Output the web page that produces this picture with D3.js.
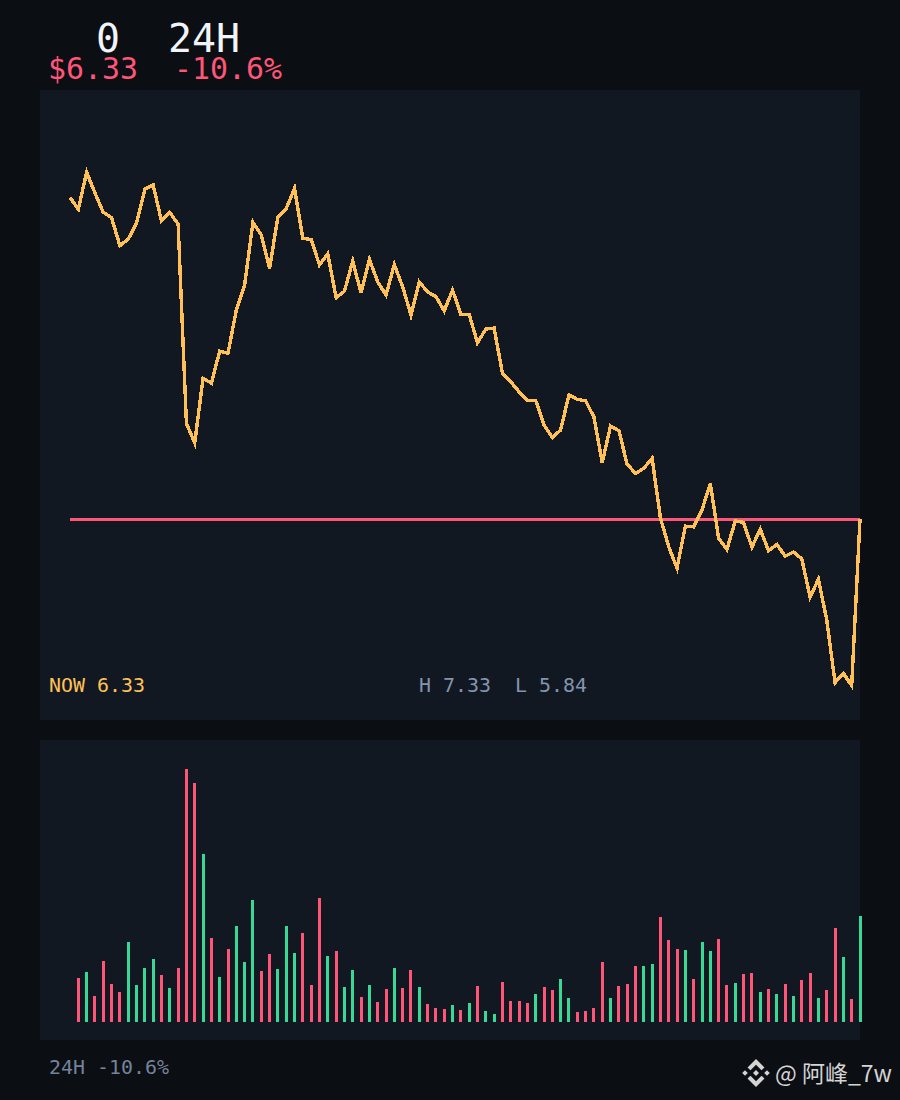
<!DOCTYPE html>
<html>
<head>
<meta charset="utf-8">
<title>24H</title>
<script src="https://cdnjs.cloudflare.com/ajax/libs/d3/7.8.5/d3.min.js"></script>
<style>
  html, body { margin: 0; padding: 0; background: #0b0e13; }
  svg { display: block; }
  text { font-family: "DejaVu Sans Mono", monospace; white-space: pre; }
</style>
</head>
<body>
<div id="chart"></div>
<script>
// Price, one value per step
const prices = [
  7.257, 7.223, 7.33, 7.27, 7.214, 7.198, 7.117, 7.136, 7.182, 7.281, 7.293, 7.189,
  7.213, 7.18, 6.601, 6.545, 6.732, 6.718, 6.811, 6.805, 6.93, 7.003, 7.185, 7.148,
  7.051, 7.201, 7.225, 7.283, 7.138, 7.135, 7.061, 7.093, 6.966, 6.985, 7.072, 6.98,
  7.078, 7.012, 6.974, 7.062, 6.998, 6.916, 7.012, 6.983, 6.969, 6.928, 6.988, 6.918,
  6.918, 6.835, 6.875, 6.878, 6.747, 6.722, 6.693, 6.668, 6.668, 6.597, 6.56, 6.582,
  6.684, 6.671, 6.667, 6.62, 6.487, 6.594, 6.58, 6.483, 6.456, 6.471, 6.5, 6.327,
  6.243, 6.181, 6.303, 6.301, 6.35, 6.427, 6.268, 6.236, 6.318, 6.314, 6.242, 6.294,
  6.232, 6.25, 6.216, 6.228, 6.208, 6.097, 6.149, 6.031, 5.849, 5.876, 5.84, 6.323
];

// Volume for steps 1 to 95, the first price has no bar
const volumes = [
  44, 50, 26, 61, 38, 30, 80, 37, 54, 63, 47, 34, 54, 253, 239, 168, 84, 45, 73, 96,
  60, 122, 51, 68, 53, 96, 69, 89, 37, 124, 66, 71, 35, 52, 25, 37, 20, 33, 54, 34,
  52, 35, 18, 14, 13, 17, 12, 19, 36, 11, 8, 40, 21, 21, 19, 28, 35, 32, 43, 24,
  10, 11, 14, 60, 24, 36, 38, 56, 56, 58, 105, 82, 73, 72, 43, 80, 71, 83, 37, 39,
  48, 49, 30, 33, 28, 38, 26, 42, 49, 24, 32, 94, 65, 23, 106
];

const headerTop = "0  24H";
const headerBottom = "$6.33  -10.6%";
const nowLabel = "NOW 6.33";
const rangeLabel = "H 7.33  L 5.84";
const footerLabel = "24H -10.6%";
const watermark = "@ 阿峰_7w";

const WIDTH = 900;
const HEIGHT = 1100;

const BG = "#0b0e13";
const PANEL = "#111822";
const GOLD = "#ffc157";
const RED = "#ff5577";
const GREEN = "#38d995";
const WHITE = "#f1f5f9";
const GREY = "#8494ad";

const svg = d3
  .select("#chart")
  .append("svg")
  .attr("width", WIDTH)
  .attr("height", HEIGHT)
  .style("background-color", BG);

// Panels
svg.append("rect").attr("x", 40).attr("y", 90).attr("width", 820).attr("height", 630).attr("fill", PANEL);
svg.append("rect").attr("x", 40).attr("y", 740).attr("width", 820).attr("height", 300).attr("fill", PANEL);

// Scales
const xScale = d3
  .scaleLinear()
  .domain([0, prices.length - 1])
  .range([70, 860]);

const yPrice = d3
  .scaleLinear()
  .domain([d3.min(prices), d3.max(prices)])
  .range([685.7, 172.3]);

const yVolume = d3
  .scaleLinear()
  .domain([0, d3.max(volumes)])
  .range([1022, 769]);

// Reference line at the last price
const lastPrice = prices[prices.length - 1];
svg
  .append("line")
  .attr("x1", xScale(0))
  .attr("x2", xScale(prices.length - 1))
  .attr("y1", yPrice(lastPrice))
  .attr("y2", yPrice(lastPrice))
  .attr("stroke", RED)
  .attr("stroke-width", 2.5)
  .style("shape-rendering", "crispEdges");

// Price line
const line = d3
  .line()
  .x((d, i) => xScale(i))
  .y((d) => yPrice(d));

svg
  .append("path")
  .datum(prices)
  .attr("d", line)
  .attr("fill", "none")
  .attr("stroke", GOLD)
  .attr("stroke-width", 3.4)
  .style("shape-rendering", "crispEdges");

// Volume bars, coloured by the price change of the step
svg
  .selectAll(".bar")
  .data(volumes)
  .enter()
  .append("rect")
  .attr("class", "bar")
  .attr("x", (d, i) => Math.round(xScale(i + 1) - 1.5))
  .attr("y", (d) => yVolume(d))
  .attr("width", 3)
  .attr("height", (d) => yVolume(0) - yVolume(d))
  .attr("fill", (d, i) => (prices[i + 1] >= prices[i] ? GREEN : RED));

// Text
function label(x, y, str, size, color) {
  return svg
    .append("text")
    .attr("x", x)
    .attr("y", y)
    .attr("font-size", size)
    .attr("fill", color)
    .text(str);
}

label(96, 52, headerTop, 39.87, WHITE);
label(48, 79, headerBottom, 29.9, RED);
label(49, 692, nowLabel, 19.93, GOLD);
label(419, 692, rangeLabel, 19.93, GREY);
label(49, 1074, footerLabel, 19.93, "#74839a");

// Watermark
const logo = svg
  .append("g")
  .attr("transform", "translate(756, 1073)")
  .attr("fill", "#d4d4d4");

const logoShapes = [
  "M0 -14 L8.5 -5.5 L5.5 -2.8 L0 -8.2 L-5.5 -2.8 L-8.5 -5.5 Z",
  "M0 14 L8.5 5.5 L5.5 2.8 L0 8.2 L-5.5 2.8 L-8.5 5.5 Z",
  "M0 -3 L3 0 L0 3 L-3 0 Z",
  "M-11 -2.8 L-8.2 0 L-11 2.8 L-13.8 0 Z",
  "M11 -2.8 L13.8 0 L11 2.8 L8.2 0 Z"
];

logo
  .selectAll("path")
  .data(logoShapes)
  .enter()
  .append("path")
  .attr("d", (d) => d);

label(775, 1082, watermark, 23, "#d4d4d4").style("font-family", '"Noto Sans CJK SC", sans-serif');
</script>
</body>
</html>
